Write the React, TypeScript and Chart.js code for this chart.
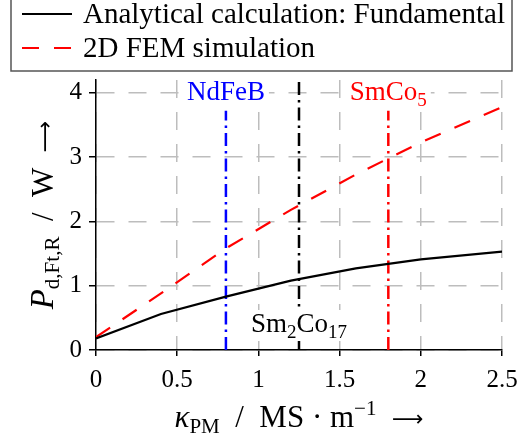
import { useEffect, useRef } from "react";
import { Chart, registerables } from "chart.js";
Chart.register(...registerables);

// ---- data ----
const kappa = [0, 0.4, 0.8, 1.2, 1.6, 2.0, 2.5];
const analytical = [0.18, 0.56, 0.83, 1.08, 1.27, 1.41, 1.53];
const fem = [0.2, 0.88, 1.58, 2.18, 2.73, 3.23, 3.78];
const xTicks = [0, 0.5, 1, 1.5, 2, 2.5];
const yTicks = [0, 1, 2, 3, 4];
const xTickLabels = ["0", "0.5", "1", "1.5", "2", "2.5"];
const yTickLabels = ["0", "1", "2", "3", "4"];
const seriesNames = ["Analytical calculation: Fundamental", "2D FEM simulation"];
const markerX = [0.8, 1.25, 1.8];
const markerTop = [3.72, 4.2, 3.72];
const markerColors = ["#0000ff", "#000000", "#ff0000"];
const markerLabelY = [3.89, 0.28, 3.89];
// label parts: [text, isSubscript]
const markerLabels: [string, boolean][][] = [
  [["NdFeB", false]],
  [["Sm", false], ["2", true], ["Co", false], ["17", true]],
  [["SmCo", false], ["5", true]],
];

const FONT = "'Liberation Serif', 'DejaVu Serif', serif";
const ARROW_FONT = "'DejaVu Sans', sans-serif";
type Seg = { t: string; size: number; italic?: boolean; dy?: number; fam?: string };

function fontOf(s: Seg) {
  return `${s.italic ? "italic " : ""}${s.size}px ${s.fam || FONT}`;
}
function richWidth(ctx: CanvasRenderingContext2D, segs: Seg[]) {
  let w = 0;
  for (const s of segs) {
    ctx.font = fontOf(s);
    w += ctx.measureText(s.t).width;
  }
  return w;
}
function drawRich(ctx: CanvasRenderingContext2D, segs: Seg[], x: number, y: number, color: string) {
  const w = richWidth(ctx, segs);
  let cx = x - w / 2;
  ctx.fillStyle = color;
  ctx.textAlign = "left";
  ctx.textBaseline = "alphabetic";
  for (const s of segs) {
    ctx.font = fontOf(s);
    ctx.fillText(s.t, cx, y + (s.dy || 0));
    cx += ctx.measureText(s.t).width;
  }
  return w;
}

const decorPlugin = {
  id: "decor",
  afterDatasetsDraw(chart: any) {
    const ctx: CanvasRenderingContext2D = chart.ctx;
    const xs = chart.scales.x;
    const ys = chart.scales.y;
    ctx.save();
    markerLabels.forEach((parts, i) => {
      const segs: Seg[] = parts.map(([t, sub]) =>
        sub ? { t, size: 19, dy: 6 } : { t, size: 27 }
      );
      const px = xs.getPixelForValue(markerX[i]);
      const py = ys.getPixelForValue(markerLabelY[i]);
      const w = richWidth(ctx, segs);
      ctx.fillStyle = "#ffffff";
      ctx.fillRect(px - w / 2 - 4, py - 22, w + 8, 31);
      drawRich(ctx, segs, px, py, markerColors[i]);
    });
    ctx.restore();
  },
  afterDraw(chart: any) {
    const ctx: CanvasRenderingContext2D = chart.ctx;
    const area = chart.chartArea;
    ctx.save();
    // legend
    ctx.fillStyle = "#ffffff";
    ctx.fillRect(11, -2, 501, 73);
    ctx.strokeStyle = "#555555";
    ctx.lineWidth = 1.5;
    ctx.strokeRect(11, -2, 501, 73);
    const rows = [
      { y: 14, color: "#000000", dash: [] as number[] },
      { y: 48, color: "#ff0000", dash: [17, 15] },
    ];
    rows.forEach((r, i) => {
      ctx.strokeStyle = r.color;
      ctx.lineWidth = 2;
      ctx.setLineDash(r.dash);
      ctx.beginPath();
      ctx.moveTo(22, r.y);
      ctx.lineTo(72, r.y);
      ctx.stroke();
      ctx.setLineDash([]);
      ctx.fillStyle = "#000";
      ctx.font = `29px ${FONT}`;
      ctx.textAlign = "left";
      ctx.textBaseline = "alphabetic";
      ctx.fillText(seriesNames[i], 83, r.y + 9);
    });
    // x axis title
    const xSegs: Seg[] = [
      { t: "κ", size: 31, italic: true },
      { t: "PM", size: 21, dy: 6 },
      { t: "  /  MS · m", size: 31 },
      { t: "−1", size: 21, dy: -12 },
      { t: "  ", size: 31 },
      { t: "⟶", size: 22, fam: ARROW_FONT, dy: -1 },
    ];
    drawRich(ctx, xSegs, (area.left + area.right) / 2, 427, "#000");
    // y axis title
    const ySegs: Seg[] = [
      { t: "P", size: 33, italic: true },
      { t: "d,Ft,R", size: 21, dy: 6 },
      { t: "  /  W  ", size: 31 },
      { t: "⟶", size: 22, fam: ARROW_FONT, dy: -1 },
    ];
    ctx.translate(53, (area.top + area.bottom) / 2);
    ctx.rotate(-Math.PI / 2);
    drawRich(ctx, ySegs, 0, 0, "#000");
    ctx.restore();
  },
};

export default function App() {
  const ref = useRef<HTMLCanvasElement>(null);
  useEffect(() => {
    if (!ref.current) return;
    const lineDS = (x: number, top: number, color: string) => ({
      data: [
        { x, y: 0 },
        { x, y: top },
      ],
      borderColor: color,
      borderWidth: 2.5,
      borderDash: [13, 5, 2.5, 5],
      pointRadius: 0,
    });
    const chart = new Chart(ref.current, {
      type: "line",
      data: {
        datasets: [
          {
            label: seriesNames[0],
            data: kappa.map((x, i) => ({ x, y: analytical[i] })),
            borderColor: "#000000",
            borderWidth: 2.2,
            pointRadius: 0,
          },
          {
            label: seriesNames[1],
            data: kappa.map((x, i) => ({ x, y: fem[i] })),
            borderColor: "#ff0000",
            borderWidth: 2.2,
            borderDash: [17, 15],
            pointRadius: 0,
          },
          ...markerX.map((x, i) => lineDS(x, markerTop[i], markerColors[i])),
        ],
      },
      options: {
        responsive: false,
        animation: false,
        events: [],
        layout: { padding: { top: 80, right: 16, left: 0, bottom: 0 } },
        plugins: { legend: { display: false }, tooltip: { enabled: false } },
        scales: {
          x: {
            type: "linear",
            min: 0,
            max: 2.5,
            afterBuildTicks: (s: any) => {
              s.ticks = xTicks.map((v) => ({ value: v }));
            },
            afterFit: (s: any) => {
              s.height = 89;
              s.paddingRight = 16;
            },
            ticks: {
              color: "#000",
              padding: 9,
              font: { family: FONT, size: 25 },
              callback: (_v: any, i: number) => xTickLabels[i],
              maxRotation: 0,
              autoSkip: false,
            },
            grid: {
              color: "#bdbdbd",
              lineWidth: 1.5,
              tickLength: 6,
              tickColor: "#000",
              tickWidth: 1.5,
            },
            border: { display: true, color: "#000", width: 1.5, dash: [18, 14] },
          },
          y: {
            type: "linear",
            min: 0,
            max: 4.2,
            afterBuildTicks: (s: any) => {
              s.ticks = yTicks.map((v) => ({ value: v }));
            },
            afterFit: (s: any) => {
              s.width = 96;
            },
            ticks: {
              color: "#000",
              padding: 7,
              font: { family: FONT, size: 25 },
              callback: (_v: any, i: number) => yTickLabels[i],
              autoSkip: false,
            },
            grid: {
              color: "#bdbdbd",
              lineWidth: 1.5,
              tickLength: 7,
              tickColor: "#000",
              tickWidth: 1.5,
            },
            border: { display: true, color: "#000", width: 1.5, dash: [18, 14] },
          },
        },
      },
      plugins: [decorPlugin],
    });
    return () => chart.destroy();
  }, []);
  return (
    <div style={{ position: "fixed", left: 0, top: 0, width: 518, height: 439, background: "#fff" }}>
      <canvas ref={ref} width={518} height={439} style={{ display: "block" }} />
    </div>
  );
}
